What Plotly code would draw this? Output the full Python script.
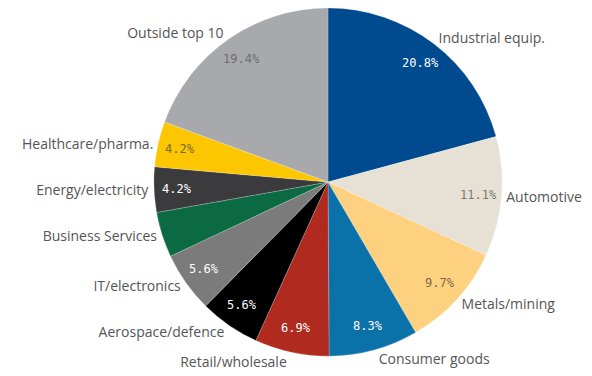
import math
import plotly.graph_objects as go

# Share of companies by sector (%)
sectors = [
    "Industrial equip.", "Automotive", "Metals/mining", "Consumer goods",
    "Retail/wholesale", "Aerospace/defence", "IT/electronics",
    "Business Services", "Energy/electricity", "Healthcare/pharma.",
    "Outside top 10",
]
shares = [20.8, 11.1, 9.7, 8.3, 6.9, 5.6, 5.6, 4.2, 4.2, 4.2, 19.4]
show_value = [True, True, True, True, True, True, True, False, True, True, True]

colors = [
    "#004a8f", "#e6e1d4", "#fdd17f", "#0b72a9", "#b02a20", "#000000",
    "#7b7b7b", "#0b6a43", "#3b3b3d", "#fcc600", "#a8a9ac",
]
value_colors = [
    "#ffffff", "#7a7a72", "#7d6a45", "#ffffff", "#ffffff", "#ffffff",
    "#ffffff", "#ffffff", "#ffffff", "#7a6a30", "#6d6d6f",
]

W, H = 592, 376
cx, cy, r = 328, 184, 176
domain = dict(
    x=[(cx - r) / W, (cx + r) / W],
    y=[1 - (cy + r) / H, 1 - (cy - r) / H],
)

fig = go.Figure()
# pie with sector names outside
fig.add_trace(go.Pie(
    labels=sectors,
    values=shares,
    sort=False,
    direction="clockwise",
    rotation=0,
    domain=domain,
    hoverinfo="skip",
    marker=dict(colors=colors, line=dict(color="rgba(255,255,255,0.35)", width=0.6)),
    text=sectors,
    textinfo="text",
    textposition="outside",
    outsidetextfont=dict(family="Open Sans", size=14, color="#555555"),
    showlegend=False,
))

# percentages placed along each slice's mid-angle, near the rim
total = sum(shares)
cum = 0.0
label_r = 0.86 * r
for v, show, tc in zip(shares, show_value, value_colors):
    mid = (cum + v / 2) / total * 2 * math.pi
    cum += v
    if not show:
        continue
    px = cx + label_r * math.sin(mid)
    py = cy - label_r * math.cos(mid)
    fig.add_annotation(
        x=px / W, y=1 - py / H, xref="paper", yref="paper",
        text=f"{v:.1f}%", showarrow=False,
        xanchor="center", yanchor="middle",
        font=dict(family="DejaVu Sans Mono", size=12, color=tc),
    )

fig.update_layout(
    width=W, height=H,
    margin=dict(l=0, r=0, t=0, b=0),
    paper_bgcolor="#ffffff",
    showlegend=False,
)

fig.write_html("out.html")
